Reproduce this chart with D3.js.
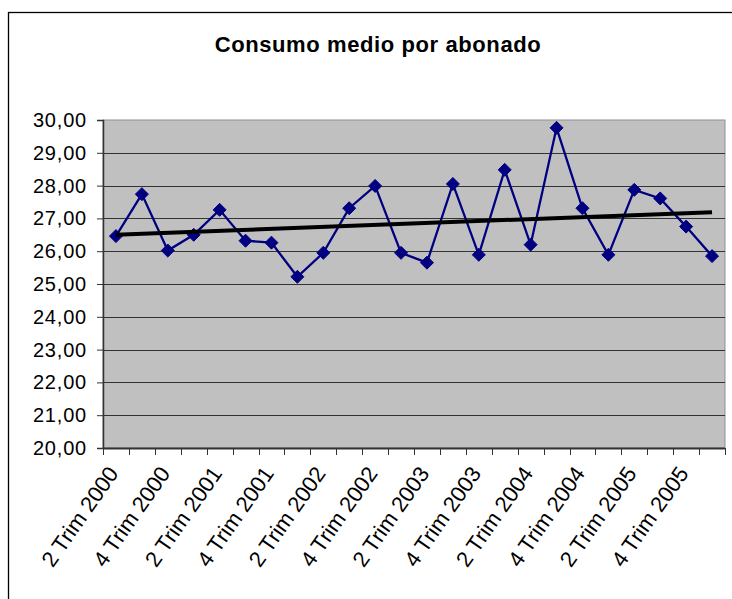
<!DOCTYPE html>
<html>
  <head>
    <meta charset="UTF-8">
    <title>Consumo medio por abonado</title>
  </head>
  <style type="text/css">
    body { margin: 0; background: #fff; }
    text { font-family: "Liberation Sans", Arial, sans-serif; fill: #000; }
    .title { font-weight: bold; font-size: 22px; letter-spacing: 0.6px; }
    .ylab { font-size: 20px; letter-spacing: 0.8px; }
    .xlab { font-size: 22px; }
  </style>
  <body>
    <svg width="732" height="599"></svg>
  </body>
  <script src="https://d3js.org/d3.v7.min.js"></script>
  <script type="text/javascript">
    const categories = [
      '2 Trim 2000', '3 Trim 2000', '4 Trim 2000',
      '1 Trim 2001', '2 Trim 2001', '3 Trim 2001', '4 Trim 2001',
      '1 Trim 2002', '2 Trim 2002', '3 Trim 2002', '4 Trim 2002',
      '1 Trim 2003', '2 Trim 2003', '3 Trim 2003', '4 Trim 2003',
      '1 Trim 2004', '2 Trim 2004', '3 Trim 2004', '4 Trim 2004',
      '1 Trim 2005', '2 Trim 2005', '3 Trim 2005', '4 Trim 2005',
      '1 Trim 2006'
    ];
    const consumo = [
      26.46, 27.74, 26.02, 26.50, 27.26, 26.32, 26.26, 25.22,
      25.95, 27.31, 27.99, 25.95, 25.65, 28.05, 25.89, 28.48,
      26.20, 29.76, 27.31, 25.89, 27.87, 27.61, 26.75, 25.85
    ];
    const yTicks = [20, 21, 22, 23, 24, 25, 26, 27, 28, 29, 30];

    const svg = d3.select('svg');

    // outer chart frame (runs off the right and bottom edges)
    svg.append('rect')
      .attr('x', 8.5).attr('y', 12.5)
      .attr('width', 760).attr('height', 620)
      .attr('fill', '#fff')
      .attr('stroke', '#000')
      .attr('stroke-width', 1.3);

    svg.append('text')
      .attr('class', 'title')
      .attr('x', 378).attr('y', 52)
      .attr('text-anchor', 'middle')
      .text('Consumo medio por abonado');

    const x = d3.scaleBand().domain(categories).range([103, 725]);
    const y = d3.scaleLinear().domain([20, 30]).range([448, 120]);
    const cx = d => x(d) + x.bandwidth() / 2;

    // plot area
    svg.append('rect')
      .attr('x', 103).attr('y', 120)
      .attr('width', 622).attr('height', 328)
      .attr('fill', '#c0c0c0')
      .attr('stroke', '#909090')
      .attr('stroke-width', 1);

    svg.append('g')
      .selectAll('line')
      .data(yTicks.filter(t => t > 20 && t < 30))
      .join('line')
        .attr('x1', 103).attr('x2', 725)
        .attr('y1', d => Math.round(y(d)) + 0.5)
        .attr('y2', d => Math.round(y(d)) + 0.5)
        .attr('stroke', '#333')
        .attr('stroke-width', 1);

    // y axis
    const yAxis = svg.append('g')
      .attr('transform', 'translate(103,0)')
      .call(d3.axisLeft(y).tickValues(yTicks).tickSize(6).tickPadding(10)
        .tickFormat(d => d.toFixed(2).replace('.', ',')));
    yAxis.select('.domain').attr('stroke', '#333').attr('stroke-width', 1.5);
    yAxis.selectAll('.tick line').attr('stroke', '#333');
    yAxis.selectAll('text').attr('class', 'ylab').attr('font-family', null).attr('font-size', null);

    // x axis: ticks at category boundaries
    const bounds = categories.map(d => x(d)).concat([725]);
    svg.append('line')
      .attr('x1', 103).attr('x2', 725).attr('y1', 448.5).attr('y2', 448.5)
      .attr('stroke', '#333').attr('stroke-width', 2);
    svg.append('g')
      .selectAll('line')
      .data(bounds)
      .join('line')
        .attr('x1', d => Math.round(d) + 0.5).attr('x2', d => Math.round(d) + 0.5)
        .attr('y1', 448).attr('y2', 455)
        .attr('stroke', '#333');

    // labels on every other category
    svg.append('g')
      .selectAll('text')
      .data(categories.filter((d, i) => i % 2 === 0))
      .join('text')
        .attr('class', 'xlab')
        .attr('text-anchor', 'end')
        .attr('dy', '0.35em')
        .attr('transform', d => 'translate(' + (cx(d) - 3) + ',469) rotate(-55)')
        .text(d => d);

    // least squares trend line
    const n = consumo.length;
    const mx = d3.mean(consumo, (d, i) => i);
    const my = d3.mean(consumo);
    const slope = d3.sum(consumo, (d, i) => (i - mx) * (d - my)) / d3.sum(consumo, (d, i) => (i - mx) * (i - mx));
    const icpt = my - slope * mx;

    const line = d3.line()
      .x((d, i) => cx(categories[i]))
      .y(d => y(d));

    svg.append('path')
      .datum(consumo)
      .attr('fill', 'none')
      .attr('stroke', '#000080')
      .attr('stroke-width', 2.3)
      .attr('d', line);

    svg.append('g')
      .selectAll('path')
      .data(consumo)
      .join('path')
        .attr('transform', (d, i) => 'translate(' + cx(categories[i]) + ',' + y(d) + ')')
        .attr('d', 'M0,-6.5L6.5,0L0,6.5L-6.5,0Z')
        .attr('fill', '#000080')
        .attr('stroke', '#000080')
        .attr('stroke-width', 1);

    svg.append('line')
      .attr('x1', cx(categories[0])).attr('y1', y(icpt))
      .attr('x2', cx(categories[n - 1])).attr('y2', y(icpt + slope * (n - 1)))
      .attr('stroke', '#000')
      .attr('stroke-width', 4);
  </script>
</html>
